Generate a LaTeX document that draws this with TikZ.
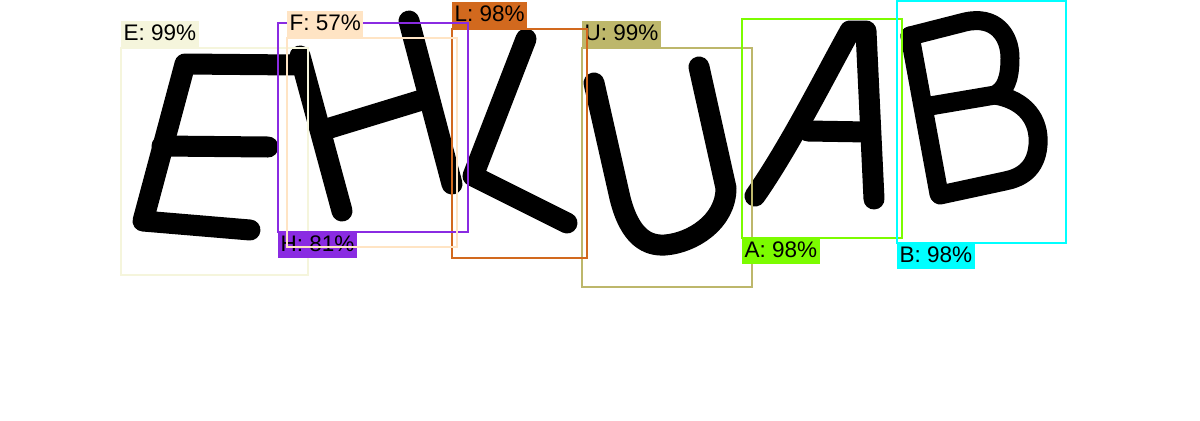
\documentclass[tikz,border=0pt]{standalone}
\usepackage{fontspec}
\setmainfont{Liberation Sans}
\definecolor{cE}{HTML}{F5F5DC}
\definecolor{cF}{HTML}{FFE4C4}
\definecolor{cH}{HTML}{8A2BE2}
\definecolor{cL}{HTML}{D2691E}
\definecolor{cU}{HTML}{BDB76B}
\definecolor{cA}{HTML}{7CFC00}
\definecolor{cB}{HTML}{00FFFF}
\tikzset{
  stroke/.style={line width=21bp, line cap=round, line join=round, black},
  detbox/.style={line width=2bp},
  lab/.style={inner xsep=2.5bp, inner ysep=3bp, text height=16.5bp, text depth=4bp,
    font=\fontsize{22.5bp}{24bp}\selectfont, text=black},
}
\begin{document}
\begin{tikzpicture}[x=1bp,y=-1bp]
\useasboundingbox (0,0) rectangle (1200,420);
% letters
% E
\draw[stroke] (296,65) -- (185,64) -- (143,221) -- (250,230);
\draw[stroke] (162,146) -- (268,147);
% H
\draw[stroke] (300,56) -- (342,211);
\draw[stroke] (409,21) -- (452,184);
\draw[stroke] (330,128) -- (425,99);
% L
\draw[stroke] (526,39) -- (473,176) -- (567,223);
% U
\draw[stroke] (594,83) -- (620,198) .. controls (630,238) and (648,246) .. (665,245) .. controls (692,243) and (726,222) .. (726,188) -- (699,67);
% A
\draw[stroke] (755,196) .. controls (790,146) and (826,74) .. (850,31) -- (866,31) -- (874,199);
\draw[stroke] (808,131) -- (868,132);
% B
\draw[stroke, line width=19bp] (910,36) -- (939,194);
\draw[stroke, line width=19bp] (910,36) -- (965,22) .. controls (995,15) and (1010,35) .. (1010,58) .. controls (1010,80) and (1005,90) .. (995,95) -- (930,106);
\draw[stroke, line width=19bp] (995,95) .. controls (1025,100) and (1040,120) .. (1038,145) .. controls (1036,170) and (1020,178) .. (1005,181) -- (940,195);
% E box
\draw[detbox, cE] (121,48) rectangle (308,275);
\node[lab, fill=cE, anchor=south west] (lE) at (121,48) {E: 99\%};
% U box
\draw[detbox, cU] (582,48) rectangle (752,287);
\node[lab, fill=cU, anchor=south west] (lU) at (582,48) {U: 99\%};
% L box
\draw[detbox, cL] (452,29) rectangle (587,258);
\node[lab, fill=cL, anchor=south west] (lL) at (452,29) {L: 98\%};
% H box
\draw[detbox, cH] (278,23) rectangle (468,232);
\node[lab, fill=cH, anchor=north west, inner ysep=2.5bp] (lH) at (278,232) {H: 81\%};
% F box
\draw[detbox, cF] (287,38) rectangle (457,247);
\node[lab, fill=cF, anchor=south west] (lF) at (287,38) {F: 57\%};
% A box
\draw[detbox, cA] (742,19) rectangle (902,238);
\node[lab, fill=cA, anchor=north west, inner ysep=2.5bp] (lA) at (742,238) {A: 98\%};
% B box
\draw[detbox, cB] (897,0.5) rectangle (1066,243);
\node[lab, fill=cB, anchor=north west, inner ysep=2.5bp] (lB) at (897,243) {B: 98\%};
\end{tikzpicture}
\end{document}
